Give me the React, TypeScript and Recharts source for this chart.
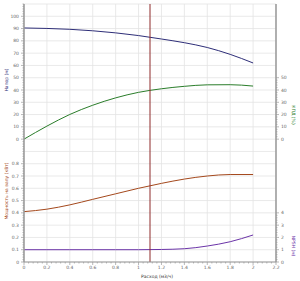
import React from "react";
import { ComposedChart, Line, XAxis, YAxis, CartesianGrid, ReferenceLine } from "recharts";

// flow, m3/h
const flow = [0, 0.2, 0.4, 0.6, 0.8, 1.0, 1.2, 1.4, 1.6, 1.8, 2.0];
// head, m
const head = [90.5, 90.1, 89.4, 88.2, 86.5, 84.3, 81.5, 78.5, 74.6, 69, 62];
// efficiency, %
const efficiency = [0, 10.6, 20.1, 27.6, 33.6, 38.1, 41, 43, 44.2, 44.3, 43.2];
// shaft power, kW
const power = [0.41, 0.43, 0.465, 0.51, 0.555, 0.6, 0.64, 0.675, 0.7, 0.712, 0.712];
// NPSH, m
const npsh = [1.0, 1.0, 1.0, 1.0, 1.0, 1.0, 1.02, 1.08, 1.3, 1.65, 2.2];

const dutyFlow = 1.1;

const xTicks = [0, 0.2, 0.4, 0.6, 0.8, 1, 1.2, 1.4, 1.6, 1.8, 2, 2.2];
const headTicks = [0, 10, 20, 30, 40, 50, 60, 70, 80, 90, 100];
const powerTicks = [0, 0.1, 0.2, 0.3, 0.4, 0.5, 0.6, 0.7, 0.8];
const effTicks = [0, 10, 20, 30, 40, 50];
const npshTicks = [0, 1, 2, 3, 4];

const range = (a: number, b: number, step: number) => {
  const out: number[] = [];
  const n = Math.round((b - a) / step);
  for (let i = 0; i <= n; i++) out.push(+(a + i * step).toFixed(4));
  return out;
};

const data = flow.map((q, i) => ({
  q,
  head: head[i],
  efficiency: efficiency[i],
  power: power[i],
  npsh: npsh[i],
}));

const TICK = 3;
const GAP = 1;
const FONT = "DejaVu Sans, sans-serif";
// a hair of width so the stacked axis still renders but sits on the same line
const THIN = 0.01;
// axis ids: recharts stacks same-side axes in id order, thin ones must come first
const POWER = "a_power";
const HEAD = "b_head";
const NPSH = "a_npsh";
const EFF = "b_eff";

function AxisTick(props: any) {
  const { x, y, payload, side, majors } = props;
  const v = payload.value;
  const major = majors.some((m: number) => Math.abs(m - v) < 1e-6);
  const len = major ? 3 : 1.5;
  const label = major ? String(v) : null;
  if (side === "left") {
    const lx = x + TICK + GAP;
    return (
      <g>
        <line x1={lx} x2={lx - len} y1={y} y2={y} stroke="#999" strokeWidth={0.7} />
        {label && (
          <text x={lx - 5} y={y} dy="0.35em" textAnchor="end" fontSize={4.5} fill="#666" fontFamily={FONT}>
            {label}
          </text>
        )}
      </g>
    );
  }
  if (side === "right") {
    const lx = x - TICK - GAP;
    return (
      <g>
        <line x1={lx} x2={lx + len} y1={y} y2={y} stroke="#999" strokeWidth={0.7} />
        {label && (
          <text x={lx + 5} y={y} dy="0.35em" textAnchor="start" fontSize={4.5} fill="#666" fontFamily={FONT}>
            {label}
          </text>
        )}
      </g>
    );
  }
  const ly = y - TICK - GAP;
  return (
    <g>
      <line x1={x} x2={x} y1={ly} y2={ly + len} stroke="#999" strokeWidth={0.7} />
      {label && (
        <text x={x} y={ly + 4} dy="0.71em" textAnchor="middle" fontSize={4.5} fill="#666" fontFamily={FONT}>
          {label}
        </text>
      )}
    </g>
  );
}

export default function App() {
  return (
    <div style={{ position: "fixed", left: 0, top: 0, width: 300, height: 281, background: "#fff" }}>
      <ComposedChart width={300} height={281} data={data} margin={{ top: 4, right: 0, bottom: 0, left: 0 }}>
        <XAxis
          dataKey="q"
          type="number"
          domain={[0, 2.2]}
          ticks={range(0, 2.2, 0.04)}
          interval={0}
          height={19}
          tickSize={TICK}
          tickMargin={GAP}
          tickLine={false}
          stroke="#999"
          tick={(p: any) => <AxisTick {...p} side="bottom" majors={xTicks} />}
        />
        <YAxis
          yAxisId={POWER}
          orientation="left"
          width={THIN}
          domain={[0, 2.1]}
          ticks={range(0, 0.98, 0.02)}
          interval={0}
          tickSize={TICK}
          tickMargin={GAP}
          tickLine={false}
          stroke="#999"
          tick={(p: any) => <AxisTick {...p} side="left" majors={powerTicks} />}
        />
        <YAxis
          yAxisId={HEAD}
          orientation="left"
          width={24 - THIN}
          domain={[-100, 110]}
          ticks={range(0, 110, 2)}
          interval={0}
          tickSize={TICK}
          tickMargin={GAP}
          tickLine={false}
          stroke="#999"
          tick={(p: any) => <AxisTick {...p} side="left" majors={headTicks} />}
        />
        <YAxis
          yAxisId={NPSH}
          orientation="right"
          width={THIN}
          domain={[0, 21]}
          ticks={range(0, 4, 0.2)}
          interval={0}
          tickSize={TICK}
          tickMargin={GAP}
          tickLine={false}
          stroke="#999"
          tick={(p: any) => <AxisTick {...p} side="right" majors={npshTicks} />}
        />
        <YAxis
          yAxisId={EFF}
          orientation="right"
          width={24 - THIN}
          domain={[-100, 110]}
          ticks={range(0, 50, 2)}
          interval={0}
          tickSize={TICK}
          tickMargin={GAP}
          tickLine={false}
          stroke="#999"
          tick={(p: any) => <AxisTick {...p} side="right" majors={effTicks} />}
        />
        <CartesianGrid
          yAxisId={POWER}
          horizontalValues={range(0, 2.1, 0.1)}
          verticalValues={xTicks}
          stroke="#e3e3e3"
          strokeWidth={0.8}
        />
        <Line yAxisId={HEAD} dataKey="head" type="monotone" stroke="#2e2e78" strokeWidth={1} dot={false} isAnimationActive={false} />
        <Line yAxisId={EFF} dataKey="efficiency" type="monotone" stroke="#2a7d2a" strokeWidth={1} dot={false} isAnimationActive={false} />
        <Line yAxisId={POWER} dataKey="power" type="monotone" stroke="#a4481c" strokeWidth={1} dot={false} isAnimationActive={false} />
        <Line yAxisId={NPSH} dataKey="npsh" type="monotone" stroke="#6b34a8" strokeWidth={1} dot={false} isAnimationActive={false} />
        <ReferenceLine yAxisId={POWER} x={dutyFlow} stroke="#8e2a2a" strokeWidth={1} />
      </ComposedChart>
      <svg width={300} height={281} style={{ position: "absolute", left: 0, top: 0, pointerEvents: "none" }}>
        <g fontFamily={FONT} fontSize={4.5}>
          <text transform="translate(8,80) rotate(-90)" textAnchor="middle" fill="#2e2e78">Напор (м)</text>
          <text transform="translate(8,191) rotate(-90)" textAnchor="middle" fill="#a4481c">Мощность на валу (кВт)</text>
          <text transform="translate(292,115) rotate(90)" textAnchor="middle" fill="#2a7d2a">КПД (%)</text>
          <text transform="translate(292,246) rotate(90)" textAnchor="middle" fill="#6b34a8">NPSH (м)</text>
          <text x={157} y={278} textAnchor="middle" fill="#333">Расход (м3/ч)</text>
        </g>
      </svg>
    </div>
  );
}
